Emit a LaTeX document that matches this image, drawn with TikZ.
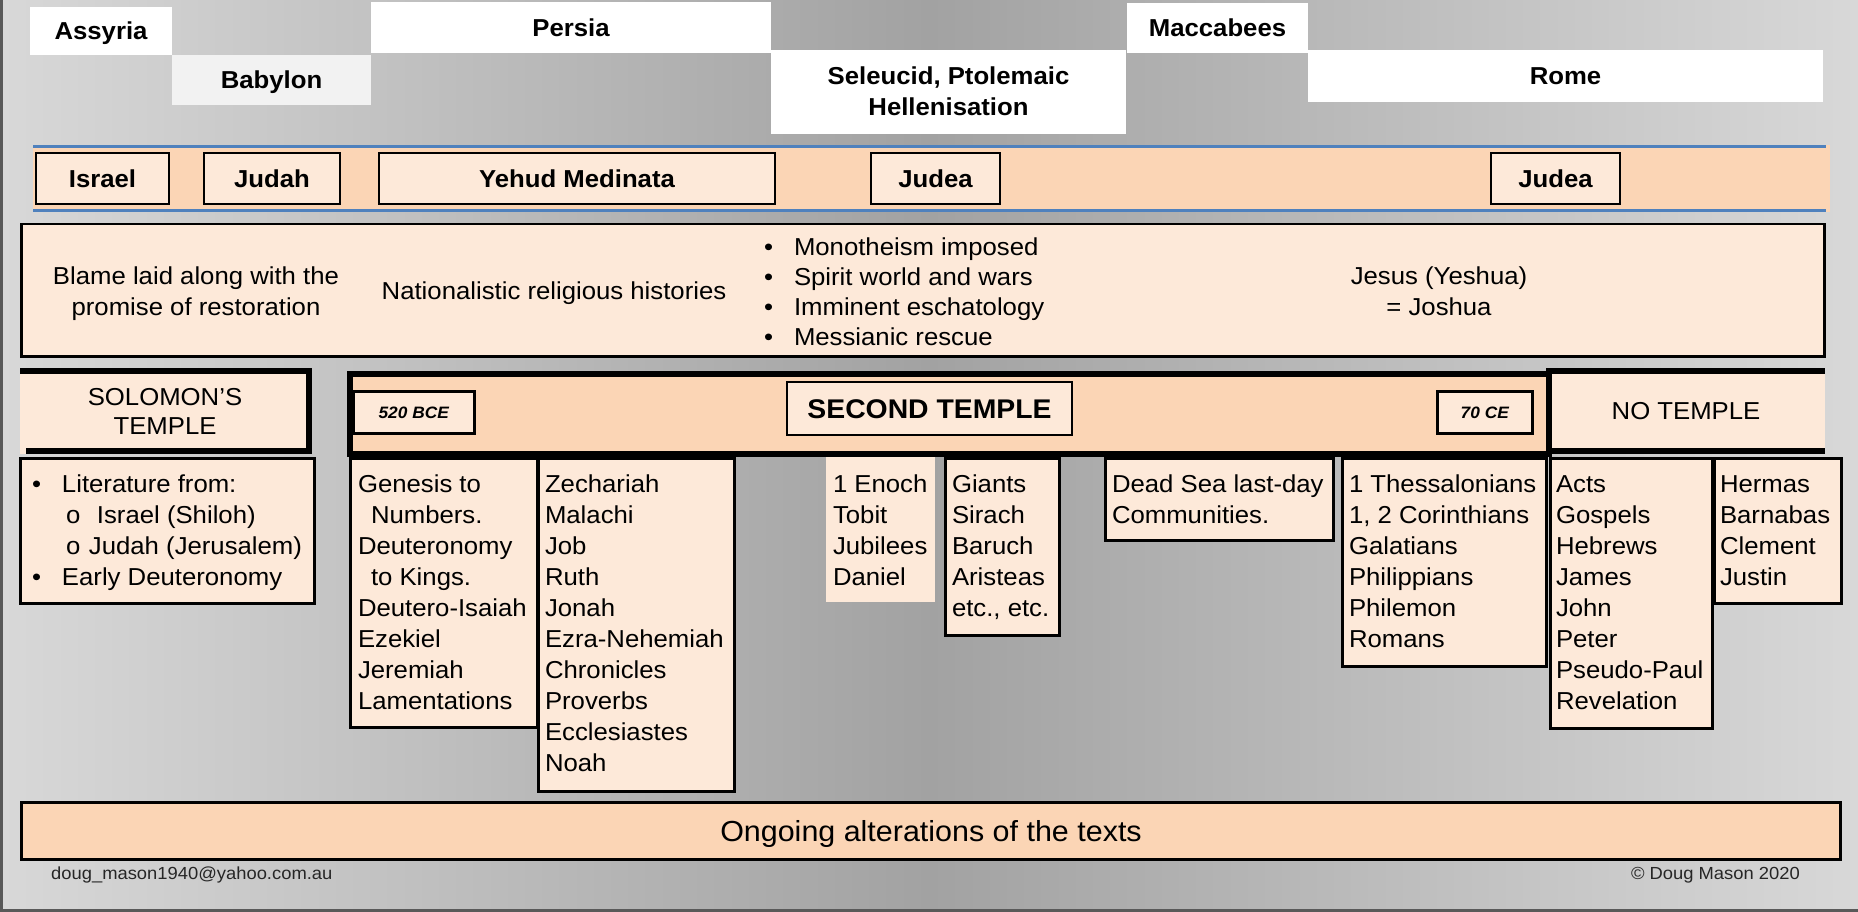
\documentclass[tikz,border=0pt]{standalone}
\usepackage{fontspec}
\setmainfont{Liberation Sans}[FakeStretch=1.05]
\definecolor{peach}{HTML}{FBD5B5}
\definecolor{lightpeach}{HTML}{FDE9D9}
\definecolor{bandblue}{HTML}{4F81BD}
\definecolor{babylongray}{HTML}{F2F2F2}
\definecolor{bgside}{HTML}{D8D8D8}
\definecolor{bgmid}{HTML}{A2A2A2}
\definecolor{framegray}{HTML}{595959}
\definecolor{foot}{HTML}{262626}
\newcommand\leftlines[2][31pt]{\vtop{\baselineskip=#1\lineskiplimit=-100pt\halign{##\hfil\cr#2\crcr}}}
\newcommand\centerlines[2][31pt]{\vtop{\baselineskip=#1\lineskiplimit=-100pt\halign{\hfil##\hfil\cr#2\crcr}}}
\tikzset{
  lbl/.style={inner sep=0pt, outer sep=0pt, font=\fontsize{24.5}{29}\selectfont\bfseries, text height=17.5pt, text depth=0pt, anchor=north west},
  empire/.style={lbl, fill=white},
  bandbox/.style={lbl, fill=lightpeach, draw=black, line width=2.5pt},
  txt/.style={inner sep=0pt, outer sep=0pt, font=\fontsize{24.5}{31}\selectfont},
  txtb/.style={inner sep=0pt, outer sep=0pt, font=\fontsize{24.5}{31}\selectfont\bfseries},
  litbox/.style={fill=lightpeach, draw=black, line width=2.5pt, inner sep=0pt, anchor=north west},
  plainbox/.style={fill=lightpeach, inner sep=0pt, anchor=north west},
  datebox/.style={fill=lightpeach, draw=black, line width=2.5pt, inner sep=0pt, anchor=north west, font=\fontsize{16.5}{20}\selectfont\bfseries\itshape, text height=12pt, text depth=0pt},
  heavy/.style={line width=6pt, draw=black}
}
\begin{document}
\begin{tikzpicture}[x=1pt,y=-1pt]
\useasboundingbox (0,0) rectangle (1858,912);
\shade[left color=bgside, right color=bgside, middle color=bgmid] (0,0) rectangle (1858,912);
\draw[line width=3pt, framegray] (1.5,0) -- (1.5,910.5) -- (1858,910.5);

% empires
\node[empire, minimum width=142, minimum height=48] (assyria) at (30,7) {Assyria};
\node[lbl, fill=babylongray, minimum width=199, minimum height=50] (babylon) at (172,55) {Babylon};
\node[empire, minimum width=400, minimum height=51] (persia) at (371,2) {Persia};
\node[empire, minimum width=355, minimum height=84] (seleucid) at (771,50) {};
\node[txtb, anchor=base] (seleucidt) at (948.5,85) {\centerlines{Seleucid, Ptolemaic\cr Hellenisation}};
\node[empire, minimum width=181, minimum height=50] (maccabees) at (1127,3) {Maccabees};
\node[empire, minimum width=515, minimum height=52] (rome) at (1308,50) {Rome};

% band
\fill[peach] (33,145) rectangle (1830,212);
\draw[bandblue, line width=3pt] (33,146.5) -- (1826,146.5);
\draw[bandblue, line width=3pt] (33,210.5) -- (1826,210.5);
\node[bandbox, minimum width=133, minimum height=51] (israel) at (36,153) {Israel};
\node[bandbox, minimum width=136, minimum height=51] (judah) at (204,153) {Judah};
\node[bandbox, minimum width=396, minimum height=51] (yehud) at (379,153) {Yehud Medinata};
\node[bandbox, minimum width=129, minimum height=51] (judea) at (871,153) {Judea};
\node[bandbox, minimum width=129, minimum height=51] (judeab) at (1491,153) {Judea};

% ideas box
\node[litbox, minimum width=1803, minimum height=132] (ideas) at (20,223) {};
\node[txt, anchor=base] (blame) at (196,284) {\centerlines{Blame laid along with the\cr promise of restoration}};
\node[txt, anchor=base] (nation) at (554,299) {Nationalistic religious histories};
\node[txt, anchor=base west] (bullets) at (764,255) {\leftlines[30.2pt]{\makebox[30pt][l]{•}Monotheism imposed\cr \makebox[30pt][l]{•}Spirit world and wars\cr \makebox[30pt][l]{•}Imminent eschatology\cr \makebox[30pt][l]{•}Messianic rescue}};
\node[txt, anchor=base] (jesus) at (1439,284) {\centerlines{Jesus (Yeshua)\cr = Joshua}};

% temple row
\fill[lightpeach] (20,368) rectangle (312,454);
\fill[lightpeach] (1546,368) rectangle (1825,454);
\draw[heavy] (20,371) -- (312,371);
\draw[heavy] (309,368) -- (309,454);
\draw[heavy] (26,451) -- (312,451);
\node[txt, anchor=base] (solomon) at (165,405) {\centerlines[29pt]{SOLOMON’S\cr TEMPLE}};
\node[heavy, fill=peach, inner sep=0pt, anchor=north west, minimum width=1199, minimum height=80] (second) at (347,371) {};
\draw[heavy] (1546,371) -- (1825,371);
\draw[heavy] (1546,451) -- (1825,451);
\node[txt, text height=17.5pt, text depth=0pt] (notemple) at (1686,411) {NO TEMPLE};
\node[datebox, minimum width=121, minimum height=42] (bce) at (352,390) {520 BCE};
\node[lbl, fill=lightpeach, draw=black, line width=2.5pt, font=\fontsize{27}{31}\selectfont\bfseries, text height=19.3pt, minimum width=285, minimum height=53] (secondt) at (787,382) {SECOND TEMPLE};
\node[datebox, minimum width=95, minimum height=42] (ce) at (1436,390) {70 CE};

% literature boxes
\node[litbox, minimum width=294, minimum height=145] (boxa) at (19,457) {};
\node[litbox, minimum width=187, minimum height=269] (boxb) at (349,457) {};
\node[litbox, minimum width=196, minimum height=333] (boxc) at (537,457) {};
\node[plainbox, minimum width=109, minimum height=145] (boxd) at (826,457) {};
\node[litbox, minimum width=114, minimum height=177] (boxe) at (944,457) {};
\node[litbox, minimum width=228, minimum height=82] (boxf) at (1104,457) {};
\node[litbox, minimum width=204, minimum height=208] (boxg) at (1341,457) {};
\node[litbox, minimum width=162, minimum height=270] (boxh) at (1549,457) {};
\node[litbox, minimum width=127, minimum height=145] (boxi) at (1713,457) {};

\node[txt, anchor=base west] (texta) at (32,492) {\leftlines{\makebox[30pt][l]{•}Literature from:\cr \hspace*{34pt}\makebox[31pt][l]{o}Israel (Shiloh)\cr \hspace*{34pt}\makebox[23pt][l]{o}Judah (Jerusalem)\cr \makebox[30pt][l]{•}Early Deuteronomy}};
\node[txt, anchor=base west] (textb) at (358,492) {\leftlines{Genesis to\cr \hspace*{13pt}Numbers.\cr Deuteronomy\cr \hspace*{13pt}to Kings.\cr Deutero-Isaiah\cr Ezekiel\cr Jeremiah\cr Lamentations}};
\node[txt, anchor=base west] (textc) at (545,492) {\leftlines{Zechariah\cr Malachi\cr Job\cr Ruth\cr Jonah\cr Ezra-Nehemiah\cr Chronicles\cr Proverbs\cr Ecclesiastes\cr Noah}};
\node[txt, anchor=base west] (textd) at (833,492) {\leftlines{1 Enoch\cr Tobit\cr Jubilees\cr Daniel}};
\node[txt, anchor=base west] (texte) at (952,492) {\leftlines{Giants\cr Sirach\cr Baruch\cr Aristeas\cr etc., etc.}};
\node[txt, anchor=base west] (textf) at (1112,492) {\leftlines{Dead Sea last-day\cr Communities.}};
\node[txt, anchor=base west] (textg) at (1349,492) {\leftlines{1 Thessalonians\cr 1, 2 Corinthians\cr Galatians\cr Philippians\cr Philemon\cr Romans}};
\node[txt, anchor=base west] (texth) at (1556,492) {\leftlines{Acts\cr Gospels\cr Hebrews\cr James\cr John\cr Peter\cr Pseudo-Paul\cr Revelation}};
\node[txt, anchor=base west] (texti) at (1720,492) {\leftlines{Hermas\cr Barnabas\cr Clement\cr Justin}};

% bottom bar
\node[fill=peach, draw=black, line width=3pt, inner sep=0pt, anchor=north west, minimum width=1819, minimum height=57, font=\fontsize{29}{33}\selectfont, text height=20.8pt, text depth=0pt] (ongoing) at (20,801) {Ongoing alterations of the texts};

% footer
\node[inner sep=0pt, anchor=base west, font=\fontsize{17.5}{20}\selectfont, text=foot] (email) at (51,879) {doug\_mason1940@yahoo.com.au};
\node[inner sep=0pt, anchor=base east, font=\fontsize{17.5}{20}\selectfont, text=foot] (copy) at (1800,879) {© Doug Mason 2020};
\end{tikzpicture}
\end{document}
